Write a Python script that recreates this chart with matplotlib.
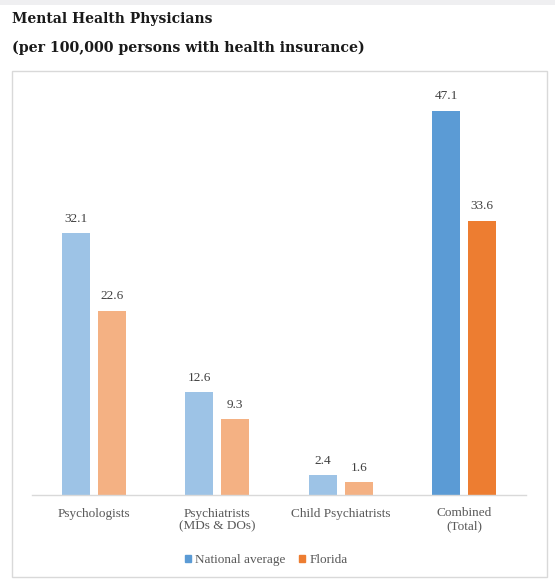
import matplotlib
matplotlib.use("Agg")
import matplotlib.pyplot as plt
from matplotlib.patches import Rectangle, Patch
import numpy as np

categories = ["Psychologists", "Psychiatrists\n(MDs & DOs)", "Child Psychiatrists", "Combined\n(Total)"]
national = [32.1, 12.6, 2.4, 47.1]
florida = [22.6, 9.3, 1.6, 33.6]
series_names = ["National average", "Florida"]

W, H = 555, 579
fig = plt.figure(figsize=(W/100, H/100), dpi=100)
fig.patch.set_facecolor("white")

# top grey band
fig.patches.append(Rectangle((0, 1 - 5/H), 1, 5/H, transform=fig.transFigure,
                             facecolor="#EFEFF1", edgecolor="none", zorder=0))
# chart box
fig.patches.append(Rectangle((12/W, 1 - 577/H), (547-12)/W, (577-71)/H, transform=fig.transFigure,
                             facecolor="white", edgecolor="#D9D9D9", linewidth=1.0, zorder=0))

serif = ["Liberation Serif", "DejaVu Serif"]
tserif = ["DejaVu Serif"]
fig.text(12/W, 1 - 19/H, "Mental Health Physicians", family=tserif, fontweight="bold",
         fontsize=10, va="center", ha="left", color="#1a1a1a")
fig.text(12/W, 1 - 48/H, "(per 100,000 persons with health insurance)", family=tserif,
         fontweight="bold", fontsize=10.2, va="center", ha="left", color="#1a1a1a")

ax = fig.add_axes([32/W, 1 - 495/H, (526-32)/W, (495-87)/H])
ax.set_zorder(3)
ax.set_xlim(-0.5, 3.5)
ax.set_ylim(0, 50)

x = np.arange(len(categories))
off = 0.145
w = 0.226
nat_colors = ["#9DC3E6", "#9DC3E6", "#9DC3E6", "#5B9BD5"]
fl_colors = ["#F4B183", "#F4B183", "#F4B183", "#ED7D31"]
b1 = ax.bar(x - off, national, w, color=nat_colors, zorder=2)
b2 = ax.bar(x + off, florida, w, color=fl_colors, zorder=2)
for bars, vals in ((b1, national), (b2, florida)):
    for rect, v in zip(bars, vals):
        ax.annotate(f"{v}", (rect.get_x() + rect.get_width()/2, v), xytext=(0, 6),
                    textcoords="offset points", ha="center", va="bottom",
                    family=serif, fontsize=9.5, color="#404040")

for s in ["top", "right", "left"]:
    ax.spines[s].set_visible(False)
ax.spines["bottom"].set_color("#D9D9D9")
ax.spines["bottom"].set_linewidth(1.0)
ax.set_yticks([])
ax.set_xticks(x)
ax.set_xticklabels(categories, family=serif, fontsize=9.5, color="#595959", linespacing=1.1)
ax.tick_params(axis="x", length=0, pad=9)
ax.patch.set_alpha(0)

handles = [Patch(color="#5B9BD5"), Patch(color="#ED7D31")]
leg = fig.legend(handles, series_names, loc="center", bbox_to_anchor=(266/W, 1 - 560/H),
                 ncol=2, frameon=False, prop={"family": serif, "size": 9.5},
                 handlelength=0.5, handleheight=0.5, handletextpad=0.3, columnspacing=1.0)
leg.set_zorder(4)
for t in leg.get_texts():
    t.set_color("#595959")

fig.savefig("out.png", dpi=100)
